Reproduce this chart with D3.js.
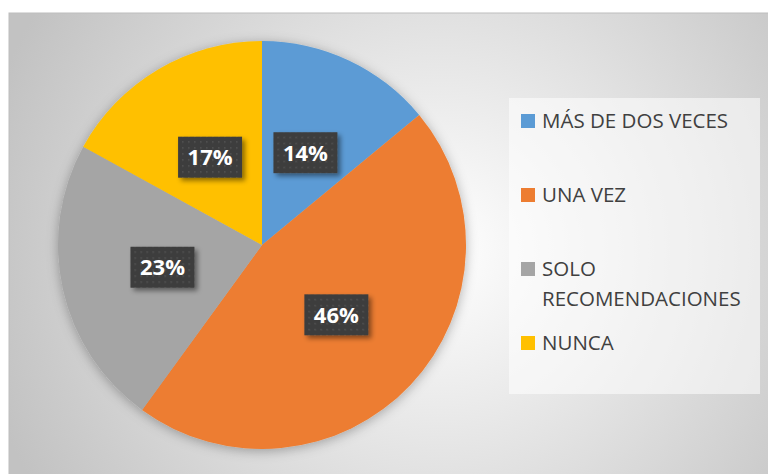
<!DOCTYPE html>
<html>
<head>
<meta charset="utf-8">
<script src="https://cdn.jsdelivr.net/npm/d3@7"></script>
<style>
  html, body { margin: 0; padding: 0; background: #fff; }
  svg { display: block; }
</style>
</head>
<body>
<div id="chart"></div>
<script>
const WIDTH = 768;
const HEIGHT = 474;

const categories = ["MÁS DE DOS VECES", "UNA VEZ", "SOLO RECOMENDACIONES", "NUNCA"];
const values = [14, 46, 23, 17];
const colors = ["#5B9BD5", "#ED7D31", "#A5A5A5", "#FFC000"];
// legend lines (the long label wraps in two)
const legendLines = [["MÁS DE DOS VECES"], ["UNA VEZ"], ["SOLO", "RECOMENDACIONES"], ["NUNCA"]];

const CENTER = { x: 262, y: 245 };
const RADIUS = 204;

const svg = d3.select('#chart')
  .append('svg')
  .attr('width', WIDTH)
  .attr('height', HEIGHT);

const defs = svg.append('defs');

// chart area background: radial grey gradient
const bg = defs.append('radialGradient')
  .attr('id', 'bg')
  .attr('gradientUnits', 'userSpaceOnUse')
  .attr('cx', 440).attr('cy', 250).attr('r', 470);
bg.append('stop').attr('offset', '0%').attr('stop-color', '#ffffff');
bg.append('stop').attr('offset', '100%').attr('stop-color', '#c2c2c2');

// dotted dark pattern for the data labels
const pat = defs.append('pattern')
  .attr('id', 'dots')
  .attr('patternUnits', 'userSpaceOnUse')
  .attr('width', 6).attr('height', 6);
pat.append('rect').attr('width', 6).attr('height', 6).attr('fill', '#3d3d3d');
pat.append('rect').attr('x', 2).attr('y', 2).attr('width', 1.5).attr('height', 1.5).attr('fill', '#555');

const pieShadow = defs.append('filter').attr('id', 'pieShadow')
  .attr('x', '-20%').attr('y', '-20%').attr('width', '140%').attr('height', '140%');
pieShadow.append('feDropShadow')
  .attr('dx', 0).attr('dy', 2).attr('stdDeviation', 6)
  .attr('flood-color', '#000').attr('flood-opacity', 0.3);

const labelShadow = defs.append('filter').attr('id', 'labelShadow')
  .attr('x', '-20%').attr('y', '-20%').attr('width', '150%').attr('height', '160%');
labelShadow.append('feDropShadow')
  .attr('dx', 3).attr('dy', 3).attr('stdDeviation', 2.5)
  .attr('flood-color', '#000').attr('flood-opacity', 0.45);

// chart area
svg.append('rect')
  .attr('x', 9).attr('y', 13)
  .attr('width', WIDTH).attr('height', HEIGHT)
  .attr('fill', 'url(#bg)')
  .attr('stroke', '#bdbdbd')
  .attr('stroke-width', 1);

const pie = d3.pie().sort(null).value(d => d);
const arcs = pie(values);

const arc = d3.arc().innerRadius(0).outerRadius(RADIUS);

const g = svg.append('g')
  .attr('transform', `translate(${CENTER.x}, ${CENTER.y})`);

g.append('g')
  .attr('filter', 'url(#pieShadow)')
  .selectAll('path')
  .data(arcs)
  .enter()
  .append('path')
  .attr('d', arc)
  .attr('fill', (d, i) => colors[i]);

// data labels
const BOX_W = 64;
const BOX_H = 41;
const labels = g.selectAll('.label')
  .data(arcs)
  .enter()
  .append('g')
  .attr('class', 'label')
  .attr('transform', d => {
    const c = arc.centroid(d);
    return `translate(${c[0]}, ${c[1]})`;
  });

labels.append('rect')
  .attr('x', -BOX_W / 2).attr('y', -BOX_H / 2)
  .attr('width', BOX_W).attr('height', BOX_H)
  .attr('fill', 'url(#dots)')
  .attr('filter', 'url(#labelShadow)');

labels.append('text')
  .attr('text-anchor', 'middle')
  .attr('dy', '0.36em')
  .attr('font-family', '"Open Sans", sans-serif')
  .attr('font-weight', 'bold')
  .attr('font-size', '22px')
  .attr('fill', '#ffffff')
  .text(d => `${d.data}%`);

// legend
const legend = svg.append('g');
legend.append('rect')
  .attr('x', 509).attr('y', 98)
  .attr('width', 251).attr('height', 296)
  .attr('fill', '#ffffff')
  .attr('fill-opacity', 0.55);

const rowY = [121, 195, 269, 343];
const items = legend.selectAll('.item')
  .data(categories)
  .enter()
  .append('g')
  .attr('class', 'item')
  .attr('transform', (d, i) => `translate(521, ${rowY[i]})`);

items.append('rect')
  .attr('x', 0).attr('y', -7)
  .attr('width', 14).attr('height', 14)
  .attr('fill', (d, i) => colors[i]);

items.append('text')
  .attr('x', 21)
  .attr('font-family', '"Open Sans", sans-serif')
  .attr('font-size', '20.5px')
  .attr('fill', '#404040')
  .each(function(d, i) {
    const t = d3.select(this);
    legendLines[i].forEach((line, j) => {
      t.append('tspan')
        .attr('x', 21)
        .attr('y', 7 + j * 30)
        .text(line);
    });
  });
</script>
</body>
</html>
